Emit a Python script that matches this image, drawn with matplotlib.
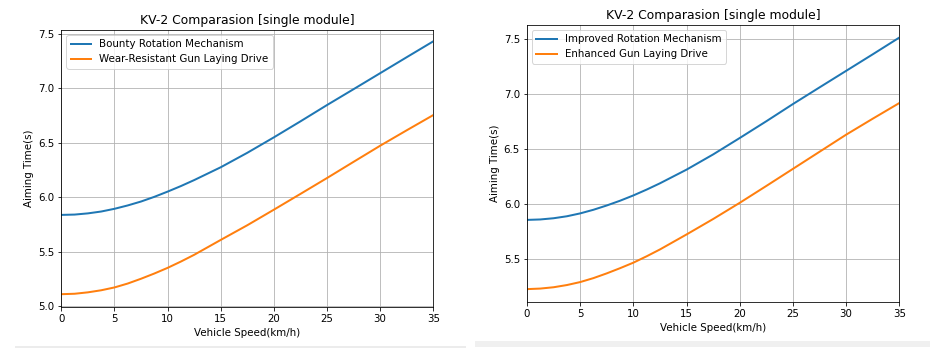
import matplotlib
matplotlib.use("Agg")
import matplotlib.pyplot as plt
from matplotlib.patches import Rectangle

speed = [0, 1.25, 2.5, 3.75, 5, 6.25, 7.5, 8.75, 10, 11.25, 12.5,
         15, 17.5, 20, 22.5, 25, 27.5, 30, 32.5, 35]

# left panel
bounty_rotation = [5.837, 5.840, 5.851, 5.868, 5.893, 5.924, 5.960, 6.003, 6.051, 6.102, 6.157,
                   6.275, 6.408, 6.550, 6.697, 6.847, 6.993, 7.140, 7.287, 7.433]
wear_resistant = [5.108, 5.112, 5.125, 5.144, 5.170, 5.206, 5.250, 5.298, 5.350, 5.408, 5.470,
                  5.607, 5.742, 5.885, 6.030, 6.176, 6.325, 6.473, 6.615, 6.755]

# right panel
improved_rotation = [5.858, 5.862, 5.873, 5.891, 5.917, 5.950, 5.989, 6.032, 6.080, 6.133, 6.190,
                     6.314, 6.452, 6.601, 6.753, 6.909, 7.060, 7.210, 7.360, 7.512]
enhanced_laying = [5.230, 5.235, 5.247, 5.267, 5.294, 5.330, 5.373, 5.420, 5.470, 5.528, 5.590,
                   5.726, 5.866, 6.013, 6.166, 6.321, 6.476, 6.631, 6.776, 6.918]

TITLE = "KV-2 Comparasion [single module]"

fig = plt.figure(figsize=(13, 5), dpi=72)
W, H = 936.0, 360.0


def px_axes(x0, y0, x1, y1):
    return fig.add_axes([x0 / W, 1 - y1 / H, (x1 - x0) / W, (y1 - y0) / H])


def panel(ax, s1, l1, s2, l2):
    ax.plot(speed, s1, label=l1, color="#1f77b4", linewidth=2)
    ax.plot(speed, s2, label=l2, color="#ff7f0e", linewidth=2)
    ax.set_xlim(0, 35)
    ax.set_title(TITLE, fontsize=12.4)
    ax.set_xlabel("Vehicle Speed(km/h)", fontsize=10.3)
    ax.set_ylabel("Aiming Time(s)", fontsize=10.3)
    ax.tick_params(labelsize=10.3)
    ax.legend(loc="upper left", fontsize=10.3)
    ax.grid(True)


ax1 = px_axes(61.3, 30, 433.3, 306.7)
panel(ax1, bounty_rotation, "Bounty Rotation Mechanism",
      wear_resistant, "Wear-Resistant Gun Laying Drive")
ax1.set_ylim(4.993, 7.537)

ax2 = px_axes(527, 25, 899.3, 301.7)
panel(ax2, improved_rotation, "Improved Rotation Mechanism",
      enhanced_laying, "Enhanced Gun Laying Drive")

# faint separators under each screenshot
fig.add_artist(Rectangle((15 / W, 1 - 347.5 / H), (466 - 15) / W, 1.2 / H,
                         transform=fig.transFigure, color="#ececec", lw=0))
fig.add_artist(Rectangle((475 / W, 1 - 346.7 / H), (930 - 475) / W, 6 / H,
                         transform=fig.transFigure, color="#f0f0f0", lw=0))

fig.savefig("out.png", dpi=72)
